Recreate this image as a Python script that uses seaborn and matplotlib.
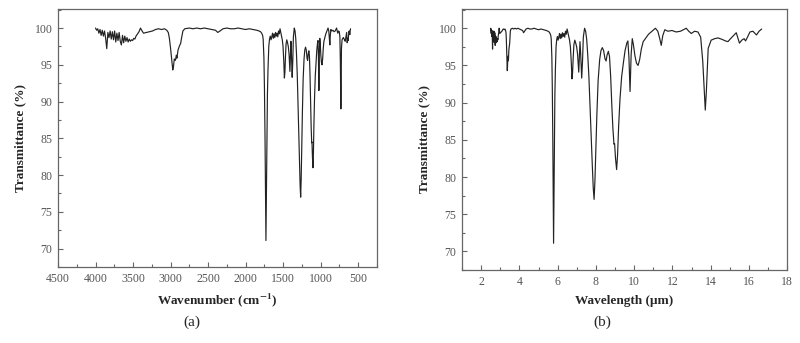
import numpy as np
import pandas as pd
import matplotlib
matplotlib.use("Agg")
import matplotlib.pyplot as plt
from matplotlib.ticker import MultipleLocator
import seaborn as sns

# FTIR spectrum: wavenumber (cm-1) and transmittance (%)
wavenumber = [
    4000, 3985, 3970, 3955, 3940, 3925, 3910, 3895, 3880, 3865,
    3850, 3835, 3820, 3805, 3790, 3775, 3760, 3745, 3730, 3715,
    3700, 3685, 3670, 3655, 3640, 3625, 3610, 3595, 3580, 3565,
    3550, 3535, 3520, 3505, 3490, 3475, 3460, 3440, 3420, 3400,
    3385, 3360, 3320, 3280, 3240, 3200, 3160, 3120, 3080, 3050,
    3030, 3015, 3000, 2985, 2970, 2960, 2950, 2935, 2922, 2915,
    2900, 2880, 2865, 2850, 2835, 2810, 2750, 2700, 2650, 2600,
    2550, 2500, 2450, 2400, 2370, 2340, 2300, 2250, 2200, 2150,
    2100, 2050, 2000, 1950, 1900, 1850, 1820, 1800, 1785, 1772,
    1765, 1755, 1748, 1740, 1734, 1728, 1722, 1715, 1708, 1700,
    1690, 1680, 1670, 1660, 1650, 1640, 1630, 1620, 1610, 1600,
    1590, 1580, 1570, 1560, 1550, 1540, 1530, 1520, 1510, 1500,
    1490, 1482, 1475, 1468, 1460, 1450, 1440, 1430, 1420, 1408,
    1400, 1395, 1388, 1378, 1370, 1362, 1350, 1340, 1330, 1320,
    1310, 1300, 1290, 1280, 1272, 1265, 1258, 1250, 1242, 1232,
    1220, 1210, 1200, 1190, 1180, 1172, 1165, 1156, 1148, 1140,
    1132, 1125, 1118, 1114, 1108, 1101, 1095, 1088, 1080, 1070,
    1060, 1050, 1040, 1034, 1028, 1022, 1016, 1010, 1004, 996,
    988, 980, 972, 964, 955, 945, 930, 915, 900, 890,
    882, 876, 870, 862, 850, 835, 820, 805, 795, 786,
    778, 770, 760, 750, 742, 736, 731, 729, 726, 721,
    713, 704, 695, 685, 677, 671, 665, 660, 652, 645,
    640, 635, 632, 628, 623, 617, 610, 605, 600,
]
transmittance = [
    100.0, 99.7, 99.9, 99.3, 99.8, 99.0, 99.7, 98.9, 99.6, 98.6,
    97.2, 99.4, 98.7, 99.6, 98.5, 99.5, 98.4, 99.6, 98.1, 99.3,
    98.3, 99.4, 98.2, 97.7, 99.0, 98.0, 98.9, 98.2, 98.7, 98.1,
    98.5, 98.2, 98.4, 98.3, 98.6, 98.5, 98.9, 99.2, 99.5, 100.0,
    99.7, 99.3, 99.4, 99.5, 99.6, 99.8, 99.9, 99.8, 99.9, 99.7,
    99.4, 98.6, 97.3, 95.8, 94.3, 94.8, 95.8, 95.6, 96.3, 95.9,
    97.0, 97.6, 97.9, 98.8, 99.6, 99.9, 100.0, 99.9, 100.0, 99.9,
    100.0, 99.9, 99.8, 99.7, 99.4, 99.6, 99.9, 100.0, 99.9, 99.9,
    100.0, 99.9, 99.8, 99.9, 99.8, 99.7, 99.6, 99.5, 99.3, 99.0,
    98.5, 96.0, 92.0, 85.0, 78.0, 71.1, 77.0, 85.0, 91.0, 94.5,
    97.5, 98.5, 98.9, 98.4, 98.8, 99.3, 98.6, 99.2, 98.7, 99.4,
    98.9, 99.3, 98.8, 99.6, 99.2, 99.9, 99.4, 98.9, 98.4, 97.5,
    95.5, 93.2, 94.0, 96.0, 97.8, 98.4, 98.0, 97.5, 96.5, 94.1,
    96.5, 98.2, 96.5, 93.3, 95.5, 98.8, 100.0, 99.6, 98.5, 96.3,
    93.5, 89.5, 85.5, 81.5, 78.5, 77.0, 79.5, 84.0, 88.5, 93.0,
    95.8, 97.0, 97.4, 97.0, 95.9, 95.6, 96.4, 96.9, 96.2, 93.5,
    89.5, 86.5, 84.4, 84.5, 82.5, 81.0, 83.0, 87.0, 90.5, 93.5,
    95.3, 97.0, 98.0, 98.3, 96.0, 91.5, 96.5, 98.6, 97.8, 96.3,
    95.3, 95.0, 95.8, 97.2, 98.2, 98.6, 99.2, 99.6, 100.0, 99.6,
    98.6, 97.7, 99.0, 99.8, 99.6, 99.7, 99.5, 99.6, 99.8, 100.0,
    99.6, 99.3, 99.6, 99.5, 98.8, 95.5, 91.0, 89.0, 91.5, 97.3,
    98.4, 98.6, 98.7, 98.5, 98.3, 98.2, 98.6, 98.9, 99.4, 98.0,
    98.4, 98.6, 98.3, 98.8, 99.5, 99.6, 99.1, 99.6, 99.9,
]

wavelength = [1e4 / w for w in wavenumber]  # µm
spec = pd.DataFrame({"wavenumber": wavenumber,
                     "wavelength": wavelength,
                     "T": transmittance})

sns.set_theme(style="ticks")
plt.rcParams["font.family"] = ["Liberation Serif", "DejaVu Serif"]
plt.rcParams["mathtext.fontset"] = "stix"

tick_color = "#555555"
spine_color = "#666666"
line_color = "#222222"

fig = plt.figure(figsize=(8.0, 3.43), dpi=100)
ax_a = fig.add_axes([0.0725, 0.2216, 0.3985, 0.7524])
ax_b = fig.add_axes([0.5775, 0.2128, 0.4065, 0.7612])

sns.lineplot(data=spec, x="wavenumber", y="T", ax=ax_a, sort=False,
             estimator=None, color=line_color, linewidth=0.85)
sns.lineplot(data=spec, x="wavelength", y="T", ax=ax_b, sort=False,
             estimator=None, color=line_color, linewidth=0.85)

ax_a.set_xlim(4500, 250)
ax_a.xaxis.set_major_locator(MultipleLocator(500))
ax_a.xaxis.set_minor_locator(MultipleLocator(250))
ax_b.set_xlim(1, 18)
ax_b.xaxis.set_major_locator(MultipleLocator(2))
ax_b.xaxis.set_minor_locator(MultipleLocator(1))

for ax in (ax_a, ax_b):
    ax.set_ylim(67.5, 102.6)
    ax.yaxis.set_major_locator(MultipleLocator(5))
    ax.yaxis.set_minor_locator(MultipleLocator(2.5))
    ax.tick_params(which="both", direction="in", colors=spine_color,
                   labelcolor=tick_color, labelsize=8.5, width=0.8,
                   top=False, right=False, pad=4)
    ax.tick_params(which="major", length=3.5)
    ax.tick_params(which="minor", length=2)
    for s in ax.spines.values():
        s.set_visible(True)
        s.set_color(spine_color)
        s.set_linewidth(0.9)
    ax.set_ylabel("Transmittance (%)", fontsize=9.5, fontweight="bold",
                  labelpad=6)

ax_a.set_xlabel("Wavenumber (cm$^{\\mathbf{-1}}$)", fontsize=9.5,
                fontweight="bold", labelpad=5)
ax_b.set_xlabel("Wavelength (μm)", fontsize=9.5, fontweight="bold",
                labelpad=5)

fig.text(192 / 800, 1 - 322 / 343, "(a)", ha="center", va="center",
         fontsize=11)
fig.text(602 / 800, 1 - 322 / 343, "(b)", ha="center", va="center",
         fontsize=11)

fig.savefig("out.png", dpi=100, facecolor="white")
